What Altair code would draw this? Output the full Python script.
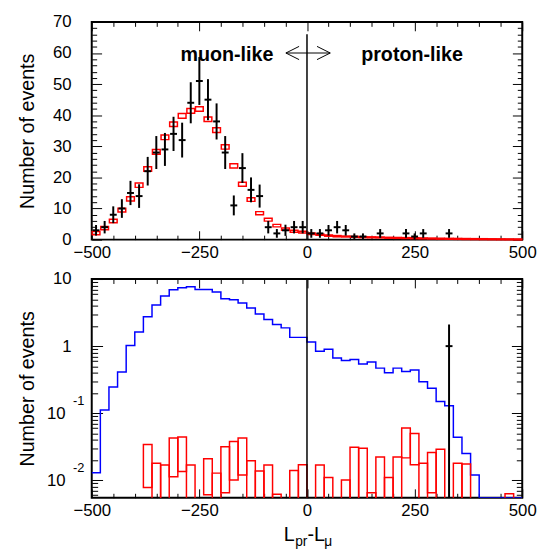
import altair as alt
import pandas as pd

# ---------------- data ----------------
# bin centres, 20-wide bins from -500 to 500
centers = [-490 + 20 * i for i in range(50)]

# top panel: MC expectation (red boxes) and its box half-height
mc_top = [2.1, 3.7, 6.0, 9.5, 13.1, 17.5, 22.7, 28.2, 32.9, 37.1,
          39.8, 41.4, 42.0, 38.7, 35.2, 29.8, 23.7, 17.8, 12.9, 8.5,
          6.4, 4.5, 3.4, 2.7, 2.4, 1.9, 1.6, 1.3, 1.1, 1.0,
          0.9, 0.8, 0.75, 0.7, 0.6, 0.55, 0.5, 0.45, 0.4, 0.35,
          0.3, 0.27, 0.24, 0.2, 0.17, 0.15, 0.12, 0.1, 0.08, 0.06]
mc_top_err = [0.5, 0.5, 0.55, 0.6, 0.65, 0.7, 0.7, 0.75, 0.75, 0.75,
              0.75, 0.75, 0.75, 0.75, 0.75, 0.7, 0.7, 0.65, 0.6, 0.5,
              0.45, 0.4, 0.35, 0.3, 0.3, 0.25, 0.2, 0.2, 0.2, 0.15,
              0.15, 0.15, 0.15, 0.15, 0.15, 0.15, 0.15, 0.15, 0.15, 0.15,
              0.15, 0.15, 0.15, 0.15, 0.15, 0.15, 0.15, 0.15, 0.15, 0.15]

# top panel: data (black crosses) and error half-length
data_top = [3, 4, 8, 10, 15, 14, 22, 28, 29, 34,
            32, 44, 51, 45, 38, 28, 11, 23, 16, 14,
            4, 2, 3, 4, 4, 2, 2, 3, 4, 3,
            1, 1, 0, 2, 0, 0, 2, 1, 2, 0,
            0, 2, 0, 0, 0, 0, 0, 0, 0, 0]
data_top_err = [1.7, 2.0, 2.7, 3.0, 3.9, 3.8, 4.6, 5.3, 5.3, 5.5,
                5.6, 6.6, 7.7, 6.6, 5.8, 5.3, 3.2, 4.8, 4.0, 3.7,
                2.0, 1.4, 1.8, 2.0, 2.0, 1.4, 1.4, 1.7, 2.0, 1.7,
                1.0, 1.0, 0.0, 1.4, 0.0, 0.0, 1.4, 1.0, 1.4, 0.0,
                0.0, 1.4, 0.0, 0.0, 0.0, 0.0, 0.0, 0.0, 0.0, 0.0]

# bottom panel: blue histogram (log scale)
blue_bot = [0.013, 0.112, 0.245, 0.41, 1.02, 1.63, 2.75, 4.1, 5.6, 6.9,
            7.4, 7.7, 7.0, 7.0, 6.4, 5.1, 4.9, 4.4, 3.7, 3.0,
            2.5, 2.1, 1.87, 1.35, 1.35, 1.15, 0.84, 0.9, 0.665, 0.61,
            0.63, 0.54, 0.58, 0.47, 0.40, 0.47, 0.42, 0.44, 0.295, 0.236,
            0.15, 0.129, 0.044, 0.025, 0.012, 0, 0, 0, 0, 0]

# bottom panel: red boxes, lower / upper edge (None = empty bin, 0 = below axis)
red_bot_lo = [None, None, None, None, None, None, 0.0078, 0, 0, 0.0113,
              0.0135, 0, None, 0.0061, 0, 0.0065, 0.0101, 0.012, 0, 0,
              0, 0, None, 0, 0, None, 0, 0, None, 0,
              0, 0, 0, 0, 0, 0, 0.0216, 0.017, 0, 0.0065,
              0, None, 0, 0, None, None, None, None, 0, None]
red_bot_hi = [None, None, None, None, None, None, 0.0343, 0.0179, 0.0169, 0.0427,
              0.0442, 0.0169, None, 0.0209, 0.0128, 0.0316, 0.038, 0.0427, 0.0196, 0.0138,
              0.0169, 0.0062, None, 0.014, 0.017, None, 0.0169, 0.011, None, 0.0101,
              0.0312, 0.030, 0.0065, 0.0223, 0.011, 0.0223, 0.060, 0.050, 0.0179, 0.026,
              0.029, None, 0.0179, 0.0175, None, None, None, None, 0.0063, None]

# bottom panel: single data point
data_bot_x = [330]
data_bot_y = [1.0]
data_bot_hi = [2.1]
data_bot_lo = [0.0]

x_label_values = [-500, -250, 0, 250, 500]

# ---------------- layout / style ----------------
W, H1, H2 = 437, 221, 222
FONT = "Liberation Sans"
LOG_MIN = 0.0055
FLOOR = 1e-3  # stand-in for "below the log axis" (clipped)

x_major = [-500, -250, 0, 250, 500]
x_minor = [v for v in range(-500, 501, 50) if v % 250 != 0]
y_top_major = list(range(0, 71, 10))
y_top_minor = [v for v in range(0, 71, 2) if v % 10 != 0]
y_log_major = [0.01, 0.1, 1, 10]
y_log_minor = [k * 10.0 ** e for e in range(-3, 1) for k in range(2, 10)
               if LOG_MIN <= k * 10.0 ** e <= 10]

x_scale = alt.Scale(domain=[-500, 500], nice=False, zero=False)
y_top_scale = alt.Scale(domain=[0, 70], nice=False, zero=False)
y_log_scale = alt.Scale(type="log", domain=[LOG_MIN, 10], nice=False)


def x_label_axis():
    return alt.Axis(orient="bottom", values=x_label_values, ticks=False, domain=False,
                    grid=False, labelFont=FONT, labelFontSize=17, labelColor="black",
                    labelPadding=5, labelFlush=False, labelOverlap=False, title="")


def tick_axis(orient, offset, values, size):
    return alt.Axis(orient=orient, offset=offset, values=values, labels=False, domain=False,
                    grid=False, ticks=True, tickColor="black", tickWidth=1, tickSize=size,
                    title="")


def y_label_axis(values, padding, expr=None, title=None, h=None):
    kw = dict(orient="left", values=values, ticks=False, domain=False, grid=False,
              labelFont=FONT, labelFontSize=17, labelColor="black", labelPadding=padding,
              labelFlush=False, labelOverlap=False)
    if expr is not None:
        kw["labelExpr"] = expr
    if title is not None:
        kw.update(title=title, titleFont=FONT, titleFontSize=20, titleFontWeight="normal",
                  titleColor="black", titleAngle=270, titleAlign="center",
                  titleBaseline="alphabetic", titleX=-59, titleY=h / 2)
    else:
        kw["title"] = ""
    return alt.Axis(**kw)


def host(xaxis, yaxis, yscale, yval):
    """invisible layer that only carries an x axis and a y axis"""
    return alt.Chart(pd.DataFrame({"x": [0], "y": [yval]})).mark_point(opacity=0).encode(
        x=alt.X("x:Q", scale=x_scale, axis=xaxis),
        y=alt.Y("y:Q", scale=yscale, axis=yaxis),
    )


def tick_hosts(h, yscale, yval, ymajor, yminor, ybig, ysmall):
    return [
        host(tick_axis("top", -h, x_minor, 4.5), tick_axis("right", -W, yminor, ysmall), yscale, yval),
        host(tick_axis("top", -h, x_major, 9), tick_axis("right", -W, ymajor, ybig), yscale, yval),
        host(tick_axis("bottom", -h, x_minor, 4.5), tick_axis("left", -W, yminor, ysmall), yscale, yval),
        host(tick_axis("bottom", -h, x_major, 9), tick_axis("left", -W, ymajor, ybig), yscale, yval),
    ]


# ---------------- top panel ----------------
top_mc_df = pd.DataFrame({
    "x0": [c - 9 for c in centers], "x1": [c + 9 for c in centers],
    "lo": [m - e for m, e in zip(mc_top, mc_top_err)],
    "hi": [m + e for m, e in zip(mc_top, mc_top_err)],
})
top_data_df = pd.DataFrame({
    "x": centers, "xl": [c - 8 for c in centers], "xr": [c + 8 for c in centers],
    "y": data_top,
    "lo": [v - e for v, e in zip(data_top, data_top_err)],
    "hi": [v + e for v, e in zip(data_top, data_top_err)],
})
top_data_df = top_data_df[top_data_df["y"] > 0]

top_boxes = alt.Chart(top_mc_df).mark_rect(
    fill="white", fillOpacity=0, stroke="#ff0000", strokeWidth=1.5
).encode(
    x=alt.X("x0:Q", scale=x_scale, axis=x_label_axis()),
    x2="x1:Q",
    y=alt.Y("lo:Q", scale=y_top_scale,
            axis=y_label_axis(y_top_major, 21, title="Number of events", h=H1)),
    y2="hi:Q",
)
top_vbars = alt.Chart(top_data_df).mark_rule(color="black", strokeWidth=2).encode(
    x=alt.X("x:Q", scale=x_scale, axis=None),
    y=alt.Y("lo:Q", scale=y_top_scale, axis=None),
    y2="hi:Q",
)
top_hbars = alt.Chart(top_data_df).mark_rule(color="black", strokeWidth=2).encode(
    x=alt.X("xl:Q", scale=x_scale, axis=None),
    x2="xr:Q",
    y=alt.Y("y:Q", scale=y_top_scale, axis=None),
)
top_zero = alt.Chart(pd.DataFrame({"x": [0], "y0": [0], "y1": [66]})).mark_rule(
    color="black", strokeWidth=1.5
).encode(
    x=alt.X("x:Q", scale=x_scale, axis=None),
    y=alt.Y("y0:Q", scale=y_top_scale, axis=None),
    y2="y1:Q",
)
labels_df = pd.DataFrame({"x": [-186, 244], "y": [57.3, 57.3], "t": ["muon-like", "proton-like"]})
top_text = alt.Chart(labels_df).mark_text(
    font=FONT, fontSize=20, fontWeight="bold", color="black", align="center",
    baseline="alphabetic"
).encode(
    x=alt.X("x:Q", scale=x_scale, axis=None),
    y=alt.Y("y:Q", scale=y_top_scale, axis=None),
    text="t:N",
)
arrow_df = pd.DataFrame({"x0": [-49], "x1": [54], "y": [60]})
arrow_shaft = alt.Chart(arrow_df).mark_rule(color="black", strokeWidth=1).encode(
    x=alt.X("x0:Q", scale=x_scale, axis=None), x2="x1:Q",
    y=alt.Y("y:Q", scale=y_top_scale, axis=None),
)
arrow_left = alt.Chart(arrow_df).mark_point(
    shape="M2,-1L0,0L2,1", filled=False, stroke="black", strokeWidth=1, size=180, opacity=1
).encode(
    x=alt.X("x0:Q", scale=x_scale, axis=None),
    y=alt.Y("y:Q", scale=y_top_scale, axis=None),
)
arrow_right = alt.Chart(arrow_df).mark_point(
    shape="M-2,-1L0,0L-2,1", filled=False, stroke="black", strokeWidth=1, size=180, opacity=1
).encode(
    x=alt.X("x1:Q", scale=x_scale, axis=None),
    y=alt.Y("y:Q", scale=y_top_scale, axis=None),
)

top = alt.layer(
    top_boxes, top_vbars, top_hbars, top_zero, top_text, arrow_shaft, arrow_left, arrow_right,
    *tick_hosts(H1, y_top_scale, 10, y_top_major, y_top_minor, 10, 5)
).resolve_axis(x="independent", y="independent").properties(width=W, height=H1)

# ---------------- bottom panel ----------------
edges = [c - 10 for c in centers]
# empty bins of the blue histogram run along the lower frame edge
blue_df = pd.DataFrame({
    "x": edges + [500],
    "y": [max(v, LOG_MIN) for v in blue_bot] + [max(blue_bot[-1], LOG_MIN)],
})
red_rows = [
    {"x0": e, "x1": e + 20, "lo": max(lo, FLOOR), "hi": hi}
    for e, lo, hi in zip(edges, red_bot_lo, red_bot_hi) if hi is not None
]
red_df = pd.DataFrame(red_rows)
bot_data_df = pd.DataFrame({
    "x": data_bot_x, "xl": [v - 8 for v in data_bot_x], "xr": [v + 8 for v in data_bot_x],
    "y": data_bot_y, "lo": [max(v, FLOOR) for v in data_bot_lo], "hi": data_bot_hi,
})

bot_blue = alt.Chart(blue_df).mark_line(
    interpolate="step-after", color="#0000ff", strokeWidth=1.5, clip=True
).encode(
    x=alt.X("x:Q", scale=x_scale, axis=x_label_axis()),
    y=alt.Y("y:Q", scale=y_log_scale,
            axis=y_label_axis([1, 10], 21, expr="datum.value > 5 ? '10' : '1'",
                              title="Number of events", h=H2)),
)
bot_red = alt.Chart(red_df).mark_rect(
    fill="white", fillOpacity=0, stroke="#ff0000", strokeWidth=1.5, clip=True
).encode(
    x=alt.X("x0:Q", scale=x_scale, axis=None),
    x2="x1:Q",
    y=alt.Y("lo:Q", scale=y_log_scale,
            axis=y_label_axis([0.01, 0.1], 27, expr="'10'")),
    y2="hi:Q",
)
bot_vbar = alt.Chart(bot_data_df).mark_rule(color="black", strokeWidth=2, clip=True).encode(
    x=alt.X("x:Q", scale=x_scale, axis=None),
    y=alt.Y("lo:Q", scale=y_log_scale,
            axis=alt.Axis(orient="left", values=[0.01, 0.1], ticks=False, domain=False,
                          grid=False, labelFont=FONT, labelFontSize=13,
                          labelColor="black", labelPadding=8, labelOffset=-13,
                          labelExpr="datum.value < 0.05 ? '-2' : '-1'",
                          labelFlush=False, labelOverlap=False, title="")),
    y2="hi:Q",
)
bot_hbar = alt.Chart(bot_data_df).mark_rule(color="black", strokeWidth=2).encode(
    x=alt.X("xl:Q", scale=x_scale, axis=None),
    x2="xr:Q",
    y=alt.Y("y:Q", scale=y_log_scale, axis=None),
)
bot_zero = alt.Chart(pd.DataFrame({"x": [0]})).mark_rule(color="black", strokeWidth=1.5).encode(
    x=alt.X("x:Q", scale=x_scale, axis=None),
    y=alt.value(0), y2=alt.value(H2),
)


def title_piece(text, px, py, size):
    return alt.Chart(pd.DataFrame({"x": [0]})).mark_text(
        text=text, font=FONT, fontSize=size, color="black", align="left",
        baseline="alphabetic"
    ).encode(x=alt.value(px), y=alt.value(py))


xt_L = title_piece("L", 195, 266, 20)
xt_pr = title_piece("pr", 206.5, 271, 14)
xt_L2 = title_piece("-L", 219, 266, 20)
xt_mu = title_piece("μ", 236, 271, 14)

bottom = alt.layer(
    bot_blue, bot_red, bot_vbar, bot_hbar, bot_zero, xt_L, xt_pr, xt_L2, xt_mu,
    *tick_hosts(H2, y_log_scale, 1, y_log_major, y_log_minor, 11, 6)
).resolve_axis(x="independent", y="independent").properties(width=W, height=H2)

chart = alt.vconcat(top, bottom, spacing=40, bounds="flush").properties(
    padding={"left": 9, "top": 0, "right": 0, "bottom": 0}
).configure_view(stroke="black", strokeWidth=2)

chart.save("out.html", embed_options={"renderer": "svg", "actions": False})
